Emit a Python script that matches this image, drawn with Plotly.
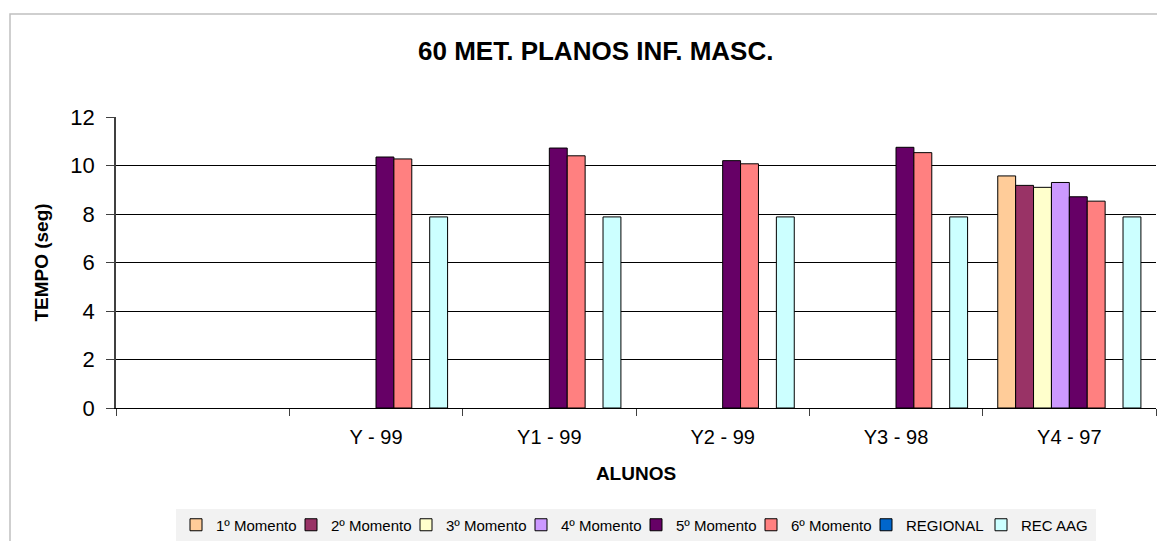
import plotly.graph_objects as go

# categories (first slot is an empty category in the original sheet)
alunos = [" ", "Y - 99", "Y1 - 99", "Y2 - 99", "Y3 - 98", "Y4 - 97"]

momento_1 = [None, None, None, None, None, 9.57]
momento_2 = [None, None, None, None, None, 9.18]
momento_3 = [None, None, None, None, None, 9.10]
momento_4 = [None, None, None, None, None, 9.30]
momento_5 = [None, 10.35, 10.72, 10.20, 10.75, 8.71]
momento_6 = [None, 10.27, 10.40, 10.07, 10.53, 8.53]
regional = [None, None, None, None, None, None]
rec_aag = [None, 7.88, 7.88, 7.88, 7.88, 7.88]

series = [
    ("1º Momento", momento_1, "#FFCC99"),
    ("2º Momento", momento_2, "#993366"),
    ("3º Momento", momento_3, "#FFFFCC"),
    ("4º Momento", momento_4, "#CC99FF"),
    ("5º Momento", momento_5, "#660066"),
    ("6º Momento", momento_6, "#FF8080"),
    ("REGIONAL", regional, "#0066CC"),
    ("REC AAG", rec_aag, "#CCFFFF"),
]

FONT = "Arial, Liberation Sans, sans-serif"

fig = go.Figure()
for name, values, color in series:
    fig.add_trace(go.Bar(
        x=alunos,
        y=values,
        name=name,
        marker=dict(color=color, line=dict(color="#000000", width=1)),
    ))

# page body adds 8px, so the figure is 8px smaller than the window
fig.update_layout(
    width=1157,
    height=533,
    margin=dict(l=108, r=9, t=109, b=133),
    paper_bgcolor="white",
    plot_bgcolor="white",
    font=dict(family=FONT, color="#000000"),
    barmode="group",
    bargap=0.174,
    bargroupgap=0,
    title=dict(
        text="<b>60 MET. PLANOS INF. MASC.</b>",
        x=0.508, xref="container", xanchor="center",
        y=1 - 43 / 533, yref="container", yanchor="middle",
        font=dict(size=26, family=FONT),
    ),
    showlegend=True,
    legend=dict(
        orientation="h",
        x=0.5, xanchor="center",
        y=1 - 517 / 533, yref="container", yanchor="middle",
        bgcolor="#F2F2F2",
        font=dict(size=15, family=FONT),
        itemwidth=30,
        entrywidth=70,
        tracegroupgap=0,
    ),
    shapes=[
        dict(type="rect", xref="paper", yref="paper",
             x0=-106 / 1040, x1=1.004, y0=-0.6, y1=1 + 103 / 291,
             line=dict(color="#C0C0C0", width=1.5), fillcolor="rgba(0,0,0,0)",
             layer="below"),
    ],
)

fig.update_xaxes(
    type="category",
    categoryorder="array",
    categoryarray=alunos,
    tickson="boundaries",
    ticks="outside",
    ticklen=7,
    tickcolor="#404040",
    ticklabelstandoff=11,
    showline=True,
    linecolor="#000000",
    linewidth=1,
    showgrid=False,
    tickfont=dict(size=20, family=FONT),
    title=dict(text="<b>ALUNOS</b>", font=dict(size=19, family=FONT), standoff=19),
)

fig.update_yaxes(
    range=[0, 12],
    dtick=2,
    ticks="outside",
    ticklen=8,
    tickcolor="#404040",
    ticklabelstandoff=7,
    showline=True,
    linecolor="#404040",
    linewidth=1.5,
    showgrid=True,
    gridcolor="#000000",
    gridwidth=1,
    zeroline=False,
    tickfont=dict(size=22, family=FONT),
    title=dict(text="<b>TEMPO (seg)</b>", font=dict(size=19, family=FONT), standoff=17),
)

fig.write_html("out.html")
